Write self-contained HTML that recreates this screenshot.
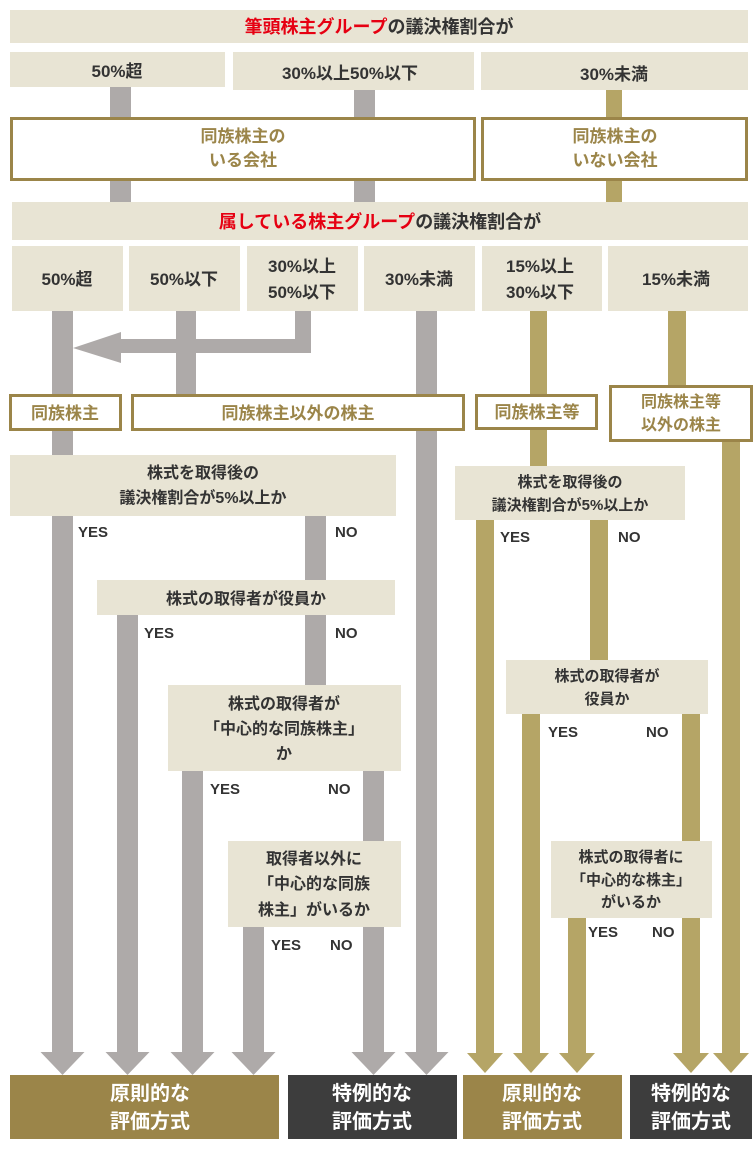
<!DOCTYPE html>
<html><head><meta charset="utf-8"><style>
html,body{margin:0;padding:0;background:#fff;}
svg{display:block;}
text{font-family:"Liberation Sans","Noto Sans CJK JP",sans-serif;font-weight:bold;}
</style></head><body>
<svg width="756" height="1150" viewBox="0 0 756 1150" xmlns="http://www.w3.org/2000/svg">
<defs></defs>
<!-- top section -->
<rect x="10" y="10" width="738" height="33" fill="#e8e4d4"/>
<text x="379" y="33" font-size="18" text-anchor="middle" fill="#333"><tspan fill="#e60012">筆頭株主グループ</tspan>の議決権割合が</text>
<rect x="10" y="52" width="215" height="35" fill="#e8e4d4"/>
<rect x="233" y="52" width="241" height="38" fill="#e8e4d4"/>
<rect x="481" y="52" width="267" height="38" fill="#e8e4d4"/>
<text x="117" y="77" font-size="17" text-anchor="middle" fill="#333">50%超</text>
<text x="350" y="79" font-size="17" text-anchor="middle" fill="#333">30%以上50%以下</text>
<text x="614" y="80" font-size="17" text-anchor="middle" fill="#333">30%未満</text>
<rect x="110" y="87" width="21" height="116" fill="#aeaaa9"/>
<rect x="354" y="90" width="21" height="113" fill="#aeaaa9"/>
<rect x="606" y="90" width="16" height="113" fill="#b5a566"/>
<rect x="11.5" y="118.5" width="463" height="61" fill="#fff" stroke="#9b8549" stroke-width="3"/>
<rect x="482.5" y="118.5" width="264" height="61" fill="#fff" stroke="#9b8549" stroke-width="3"/>
<text x="243" y="142" font-size="17" text-anchor="middle" fill="#9b8549">同族株主の</text>
<text x="243" y="166" font-size="17" text-anchor="middle" fill="#9b8549">いる会社</text>
<text x="615" y="142" font-size="17" text-anchor="middle" fill="#9b8549">同族株主の</text>
<text x="615" y="166" font-size="17" text-anchor="middle" fill="#9b8549">いない会社</text>
<rect x="12" y="202" width="736" height="38" fill="#e8e4d4"/>
<text x="380" y="228" font-size="18" text-anchor="middle" fill="#333"><tspan fill="#e60012">属している株主グループ</tspan>の議決権割合が</text>
<!-- row of percentages -->
<rect x="12" y="246" width="111" height="65" fill="#e8e4d4"/>
<rect x="129" y="246" width="111" height="65" fill="#e8e4d4"/>
<rect x="247" y="246" width="111" height="65" fill="#e8e4d4"/>
<rect x="364" y="246" width="111" height="65" fill="#e8e4d4"/>
<rect x="482" y="246" width="120" height="65" fill="#e8e4d4"/>
<rect x="608" y="246" width="140" height="65" fill="#e8e4d4"/>
<text x="67" y="285" font-size="17" text-anchor="middle" fill="#333">50%超</text>
<text x="184" y="285" font-size="17" text-anchor="middle" fill="#333">50%以下</text>
<text x="302" y="272" font-size="17" text-anchor="middle" fill="#333">30%以上</text>
<text x="302" y="298" font-size="17" text-anchor="middle" fill="#333">50%以下</text>
<text x="419" y="285" font-size="17" text-anchor="middle" fill="#333">30%未満</text>
<text x="540" y="272" font-size="17" text-anchor="middle" fill="#333">15%以上</text>
<text x="540" y="298" font-size="17" text-anchor="middle" fill="#333">30%以下</text>
<text x="676" y="285" font-size="17" text-anchor="middle" fill="#333">15%未満</text>
<!-- gray bars -->
<g fill="#aeaaa9">
<rect x="52" y="311" width="21" height="742"/>
<rect x="176" y="311" width="20" height="84"/>
<rect x="295" y="311" width="16" height="42"/>
<rect x="121" y="339" width="190" height="14"/>
<polygon points="73,348 121,332 121,363"/>
<rect x="416" y="311" width="21" height="742"/>
<rect x="305" y="516" width="21" height="64"/>
<rect x="117" y="615" width="21" height="438"/>
<rect x="305" y="615" width="21" height="70"/>
<rect x="182" y="771" width="21" height="282"/>
<rect x="363" y="771" width="21" height="70"/>
<rect x="243" y="927" width="21" height="126"/>
<rect x="363" y="927" width="21" height="126"/>
<polygon points="40.5,1052 84.5,1052 62.5,1075"/>
<polygon points="105.5,1052 149.5,1052 127.5,1075"/>
<polygon points="170.5,1052 214.5,1052 192.5,1075"/>
<polygon points="231.5,1052 275.5,1052 253.5,1075"/>
<polygon points="351.5,1052 395.5,1052 373.5,1075"/>
<polygon points="404.5,1052 448.5,1052 426.5,1075"/>
</g>
<!-- gold bars -->
<g fill="#b5a566">
<rect x="530" y="311" width="17" height="155"/>
<rect x="668" y="311" width="18" height="80"/>
<rect x="476" y="520" width="18" height="533"/>
<rect x="590" y="520" width="18" height="140"/>
<rect x="522" y="714" width="18" height="339"/>
<rect x="682" y="714" width="18" height="339"/>
<rect x="568" y="918" width="18" height="135"/>
<rect x="722" y="441" width="18" height="612"/>
<polygon points="467,1053 503,1053 485,1073"/>
<polygon points="513,1053 549,1053 531,1073"/>
<polygon points="559,1053 595,1053 577,1073"/>
<polygon points="673,1053 709,1053 691,1073"/>
<polygon points="713,1053 749,1053 731,1073"/>
</g>
<!-- category boxes -->
<rect x="10.5" y="395.5" width="110" height="34" fill="#fff" stroke="#9b8549" stroke-width="3"/>
<rect x="132.5" y="395.5" width="331" height="34" fill="#fff" stroke="#9b8549" stroke-width="3"/>
<rect x="476.5" y="395.5" width="120" height="33" fill="#fff" stroke="#9b8549" stroke-width="3"/>
<rect x="610.5" y="386.5" width="141" height="54" fill="#fff" stroke="#9b8549" stroke-width="3"/>
<text x="65" y="419" font-size="17" text-anchor="middle" fill="#9b8549">同族株主</text>
<text x="298" y="419" font-size="17" text-anchor="middle" fill="#9b8549">同族株主以外の株主</text>
<text x="537" y="418" font-size="17" text-anchor="middle" fill="#9b8549">同族株主等</text>
<text x="681" y="407" font-size="16" text-anchor="middle" fill="#9b8549">同族株主等</text>
<text x="681" y="430" font-size="16" text-anchor="middle" fill="#9b8549">以外の株主</text>
<!-- left decisions -->
<rect x="10" y="455" width="386" height="61" fill="#e8e4d4"/>
<text x="203" y="478" font-size="16" text-anchor="middle" fill="#333">株式を取得後の</text>
<text x="203" y="503" font-size="16" text-anchor="middle" fill="#333">議決権割合が5%以上か</text>
<rect x="97" y="580" width="298" height="35" fill="#e8e4d4"/>
<text x="246" y="604" font-size="16" text-anchor="middle" fill="#333">株式の取得者が役員か</text>
<rect x="168" y="685" width="233" height="86" fill="#e8e4d4"/>
<text x="284" y="709" font-size="16" text-anchor="middle" fill="#333">株式の取得者が</text>
<text x="284" y="734" font-size="16" text-anchor="middle" fill="#333">「中心的な同族株主」</text>
<text x="284" y="759" font-size="16" text-anchor="middle" fill="#333">か</text>
<rect x="228" y="841" width="173" height="86" fill="#e8e4d4"/>
<text x="314" y="864" font-size="16" text-anchor="middle" fill="#333">取得者以外に</text>
<text x="314" y="889" font-size="16" text-anchor="middle" fill="#333">「中心的な同族</text>
<text x="314" y="915" font-size="16" text-anchor="middle" fill="#333">株主」がいるか</text>
<!-- right decisions -->
<rect x="455" y="466" width="230" height="54" fill="#e8e4d4"/>
<text x="570" y="487" font-size="15" text-anchor="middle" fill="#333">株式を取得後の</text>
<text x="570" y="510" font-size="15" text-anchor="middle" fill="#333">議決権割合が5%以上か</text>
<rect x="506" y="660" width="202" height="54" fill="#e8e4d4"/>
<text x="607" y="681" font-size="15" text-anchor="middle" fill="#333">株式の取得者が</text>
<text x="607" y="704" font-size="15" text-anchor="middle" fill="#333">役員か</text>
<rect x="551" y="841" width="161" height="77" fill="#e8e4d4"/>
<text x="631" y="862" font-size="15" text-anchor="middle" fill="#333">株式の取得者に</text>
<text x="631" y="885" font-size="15" text-anchor="middle" fill="#333">「中心的な株主」</text>
<text x="631" y="907" font-size="15" text-anchor="middle" fill="#333">がいるか</text>
<!-- YES/NO -->
<g font-size="15" fill="#333">
<text x="78" y="537">YES</text><text x="335" y="537">NO</text>
<text x="144" y="638">YES</text><text x="335" y="638">NO</text>
<text x="210" y="794">YES</text><text x="328" y="794">NO</text>
<text x="271" y="950">YES</text><text x="330" y="950">NO</text>
<text x="500" y="542">YES</text><text x="618" y="542">NO</text>
<text x="548" y="737">YES</text><text x="646" y="737">NO</text>
<text x="588" y="937">YES</text><text x="652" y="937">NO</text>
</g>
<!-- results -->
<rect x="10" y="1075" width="269" height="64" fill="#9b8549"/>
<rect x="288" y="1075" width="169" height="64" fill="#3d3d3d"/>
<rect x="463" y="1075" width="159" height="64" fill="#9b8549"/>
<rect x="630" y="1075" width="122" height="64" fill="#3d3d3d"/>
<g font-size="20" fill="#fff" text-anchor="middle">
<text x="150" y="1100">原則的な</text><text x="150" y="1128">評価方式</text>
<text x="372" y="1100">特例的な</text><text x="372" y="1128">評価方式</text>
<text x="542" y="1100">原則的な</text><text x="542" y="1128">評価方式</text>
<text x="691" y="1100">特例的な</text><text x="691" y="1128">評価方式</text>
</g>
</svg>
</body></html>
